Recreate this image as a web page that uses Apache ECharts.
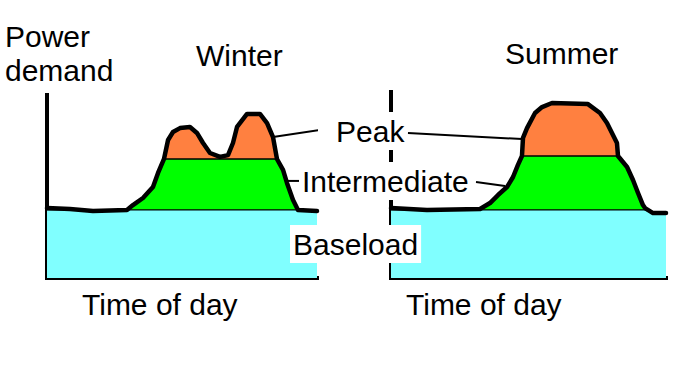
<!DOCTYPE html>
<html><head><meta charset="utf-8">
<script src="https://cdn.jsdelivr.net/npm/echarts@6/dist/echarts.min.js"></script>
<style>html,body{margin:0;padding:0;background:#fff}#c{width:677px;height:368px}</style>
</head><body><div id="c"></div>
<script>
// Winter demand curve (hour of day, demand in arbitrary units)
const winterHours  = [0, 2.04, 4.09, 7.11, 7.64, 8.53, 9.42, 9.87, 10.4, 10.76, 11.2, 11.82, 12.71, 13.33, 13.87, 14.49, 15.38, 16.09, 16.53, 16.89, 17.78, 18.93, 19.56, 20.09, 20.44, 20.98, 21.33, 21.87, 22.31, 24];
const winterDemand = [37.6, 37.1, 36.0, 36.6, 39.2, 43.0, 48.9, 56.5, 64.0, 74.2, 78.5, 80.6, 81.2, 78.0, 72.6, 67.2, 65.1, 66.1, 72.6, 81.2, 88.2, 88.2, 83.3, 75.8, 64.0, 58.1, 51.1, 41.9, 36.6, 36.0];
// Summer demand curve
const summerHours  = [0, 3.14, 7.77, 8.64, 9.34, 10.12, 10.65, 11.08, 11.43, 11.52, 11.87, 12.57, 13.18, 14.05, 17.19, 18.24, 18.85, 19.72, 19.81, 20.60, 21.12, 21.56, 21.99, 22.17, 22.87, 24];
const summerDemand = [37.6, 36.6, 37.1, 40.3, 44.6, 48.9, 54.3, 60.8, 65.6, 75.3, 80.6, 88.7, 91.9, 94.1, 93.5, 88.7, 83.3, 72.6, 65.6, 59.7, 52.7, 45.7, 39.2, 37.6, 34.9, 34.9];
// Band levels: [baseload top, intermediate top]
const winterBands = [36.6, 64.0];
const summerBands = [36.6, 65.6];
// Leader lines (hour, demand) pairs
const winterPeakLeader = [[20.09, 75.8], [25.3, 80.6]];
const winterInterLeader = [[21.24, 52.2], [22.58, 52.2]];
const summerPeakLeader = [[1.48, 78.0], [11.43, 74.7]];
const summerInterLeader = [[7.42, 51.6], [9.95, 49.5]];
const bandNames = ['Peak', 'Intermediate', 'Baseload'];
const bandColors = ['#ff8040', '#00ff00', '#80ffff'];

const FONT = 'Liberation Sans, Arial, sans-serif';

// Layered areas: full curve (peak colour), capped at intermediate level, capped at base level
function bandSeries(hours, demand, bands, gi) {
  const [B, I] = bands;
  const layers = [
    demand.slice(),
    demand.map(v => Math.min(v, I)),
    demand.map(v => Math.min(v, B))
  ];
  return layers.map((p, k) => ({
    name: bandNames[k], type: 'line',
    xAxisIndex: gi, yAxisIndex: gi, symbol: 'none', z: 2,
    data: p.map((v, i) => [hours[i], v]),
    lineStyle: { color: '#000', width: 1.3 },
    areaStyle: { color: bandColors[k], opacity: 1 }
  }));
}
function outline(hours, demand, gi) {
  return { type: 'line', xAxisIndex: gi, yAxisIndex: gi, symbol: 'none', z: 4,
    data: demand.map((v, i) => [hours[i], v]),
    lineStyle: { color: '#000', width: 4.5, join: 'round', cap: 'round' } };
}
function leader(pts, gi) {
  return { type: 'line', xAxisIndex: gi, yAxisIndex: gi, symbol: 'none', z: 4, clip: false,
    data: pts, lineStyle: { color: '#000', width: 2 } };
}
function axisX(gi) {
  return { type: 'value', gridIndex: gi, min: 0, max: 24,
    axisLine: { show: true, lineStyle: { color: '#000', width: 4, cap: 'square' } },
    axisTick: { show: false }, axisLabel: { show: false }, splitLine: { show: false } };
}
function axisY(gi, max) {
  return { type: 'value', gridIndex: gi, min: 0, max: max,
    axisLine: { show: true, lineStyle: { color: '#000', width: 4, cap: 'square' } },
    axisTick: { show: false }, axisLabel: { show: false }, splitLine: { show: false } };
}
function label(text, left, top, boxed, lh) {
  return { text: text, left: left, top: top, padding: boxed ? [0, 3] : 0,
    backgroundColor: boxed ? '#fff' : 'transparent', z: 10,
    textStyle: { fontSize: 30, fontWeight: 'normal', color: '#000', fontFamily: FONT, lineHeight: lh || 34 } };
}

const chart = echarts.init(document.getElementById('c'), null, { renderer: 'svg' });
chart.setOption({
  animation: false,
  backgroundColor: '#fff',
  grid: [
    { left: 47, top: 95, width: 270, bottom: 90 },
    { left: 391, top: 92, width: 275, bottom: 90 }
  ],
  xAxis: [axisX(0), axisX(1)],
  yAxis: [axisY(0, 98.4), axisY(1, 100)],
  title: [
    label('Power\ndemand', 5, 19, false),
    label('Winter', 196, 38, false),
    label('Summer', 505, 36, false),
    label('Peak', 333, 112, true, 38),
    label('Intermediate', 299, 162, true, 38),
    label('Baseload', 290, 225, true, 38),
    label('Time of day', 82, 287, false),
    label('Time of day', 406, 287, false)
  ],
  series: [
    ...bandSeries(winterHours, winterDemand, winterBands, 0),
    ...bandSeries(summerHours, summerDemand, summerBands, 1),
    outline(winterHours, winterDemand, 0),
    outline(summerHours, summerDemand, 1),
    leader(winterPeakLeader, 0),
    leader(winterInterLeader, 0),
    leader(summerPeakLeader, 1),
    leader(summerInterLeader, 1)
  ]
});
</script></body></html>
